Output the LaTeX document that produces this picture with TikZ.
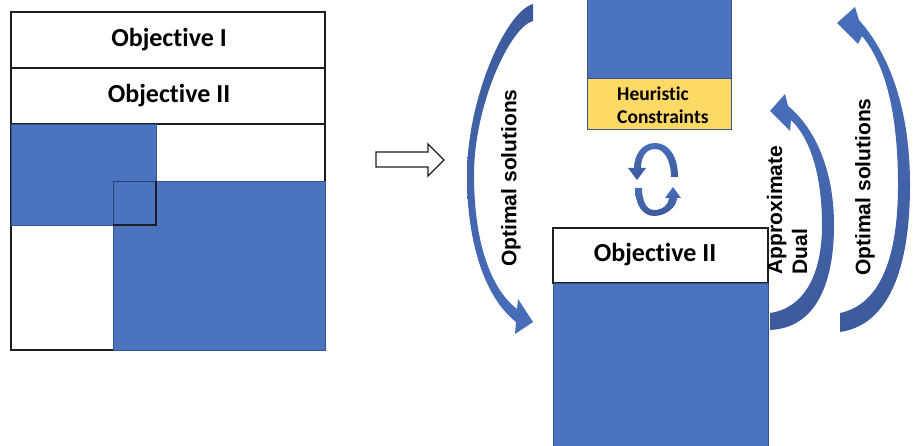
\documentclass[tikz,border=0pt]{standalone}
\usepackage{fontspec}
\newfontfamily\calfont{Carlito}[Ligatures={NoCommon,NoRare,NoContextual}]
\newfontfamily\arialfont{Liberation Sans}
\definecolor{pblue}{RGB}{76,115,190}
\definecolor{pbdark}{RGB}{52,84,145}
\definecolor{parrow}{RGB}{72,110,186}
\definecolor{parrowdark}{RGB}{60,90,155}
\definecolor{pyellow}{RGB}{255,217,102}
\definecolor{frameblack}{RGB}{30,30,30}
\begin{document}
\begin{tikzpicture}[x=1pt,y=-1pt,
  frame/.style={draw=frameblack, line width=1.4pt},
  blk/.style={fill=pblue, draw=pbdark, line width=0.6pt, inner sep=0pt, outer sep=0pt},
  objlbl/.style={font=\calfont\bfseries\fontsize{26}{30}\selectfont, inner sep=0pt},
  heurlbl/.style={font=\calfont\bfseries\fontsize{19.5}{23}\selectfont, inner sep=0pt, align=left},
  arlbl/.style={font=\arialfont\bfseries\fontsize{21}{25}\selectfont, inner sep=0pt, rotate=90},
  curvedup/.style={top color=parrow, bottom color=parrowdark, draw=none},
  curveddown/.style={top color=parrowdark, bottom color=parrow, draw=none},
  hollow/.style={draw=frameblack, line width=1.4pt, fill=white, line join=miter}
]
\useasboundingbox (0,0) rectangle (918,446);

% ---------- left diagram ----------
\node[frame, fill=white, minimum width=314pt, minimum height=338pt, anchor=north west, inner sep=0pt, outer sep=0pt] (outer) at (11,12) {};
\node[frame, minimum width=314pt, minimum height=56pt, anchor=north west, inner sep=0pt, outer sep=0pt] (row1) at (11,12) {};
\node[frame, minimum width=314pt, minimum height=56pt, anchor=north west, inner sep=0pt, outer sep=0pt] (row2) at (11,68) {};
\node[objlbl] (o1) at (169,40) {Objective I};
\node[objlbl] (o2) at (169,96) {Objective II};
\node[blk, minimum width=145pt, minimum height=101pt, anchor=north west] (b1) at (11,124) {};
\node[blk, minimum width=212pt, minimum height=169pt, anchor=north west] (b2) at (113,181) {};
\coordinate (ovtl) at (113,181);
\coordinate (ovtr) at (156,181);
\coordinate (ovbr) at (156,225);
\coordinate (ovbl) at (113,225);
\draw[pbdark!80!black, line width=0.8pt] (ovbl) -- (ovtl) -- (ovtr);
\draw[frameblack, line width=1.2pt] (ovtr) -- (ovbr) -- (ovbl);

% hollow block arrow
\draw[hollow] (376,152) -- (428,152) -- (428,144) -- (444,160) -- (428,176) -- (428,167) -- (376,167) -- cycle;

% ---------- right diagram ----------
\node[blk, minimum width=144pt, minimum height=80pt, anchor=north west] (topblk) at (587,-2) {};
\node[fill=pyellow, draw=pbdark, line width=0.8pt, minimum width=144pt, minimum height=51pt, anchor=north west, inner sep=0pt, outer sep=0pt] (heur) at (587,78) {};
\node[heurlbl, anchor=west] (heurtxt) at (617,105) {Heuristic\\Constraints};

\node[draw=frameblack, line width=1.4pt, fill=white, minimum width=215pt, minimum height=55pt, anchor=north west, inner sep=0pt, outer sep=0pt] (obj2box) at (553,228) {};
\node[objlbl] (obj2txt) at (655,255) {Objective II};
\node[blk, minimum width=215pt, minimum height=166pt, anchor=north west] (botblk) at (553,283) {};

% circular arrows
\shade[curvedup] (678,177) .. controls (678,155) and (668,143) .. (655,143)
  .. controls (642,143) and (634,155) .. (634,168) -- (628,168) -- (637,180) -- (646,168) -- (641,168)
  .. controls (641,157) and (646,149) .. (655,149) .. controls (664,149) and (671,160) .. (671,177) -- cycle;
\shade[curvedup] (635,188) .. controls (635,205) and (643,216) .. (654,216)
  .. controls (666,216) and (677,207) .. (677,198) -- (681,198) -- (673,187) -- (665,198) -- (669,198)
  .. controls (669,205) and (662,210) .. (654,210) .. controls (646,210) and (642,200) .. (642,188) -- cycle;

% left curved arrow
\shade[curveddown] (533,4) .. controls (505,12) and (467,100) .. (467,175)
  .. controls (467,250) and (488,300) .. (516,322) -- (515,334) -- (533,322) -- (518,299) -- (517,309)
  .. controls (492,290) and (474,245) .. (474,175)
  .. controls (474,105) and (510,27) .. (533,21) -- cycle;
\node[arlbl] (optl) at (511,178) {Optimal solutions};

% right inner curved arrow
\shade[curvedup] (770,330) .. controls (815,328) and (834,285) .. (834,225)
  .. controls (834,170) and (815,128) .. (788,106) -- (785,94) -- (770,111) -- (790,131) -- (791,120)
  .. controls (810,138) and (822,175) .. (822,225)
  .. controls (822,275) and (804,308) .. (770,313) -- cycle;
\node[arlbl, align=left] (approx) at (787,210) {Approximate\\Dual};

% right outer curved arrow
\shade[curvedup] (840,332) .. controls (888,325) and (910,270) .. (910,185)
  .. controls (910,110) and (890,55) .. (859,20) -- (855,7) -- (837,23) -- (858,44) -- (862,36)
  .. controls (886,65) and (898,115) .. (898,185)
  .. controls (898,262) and (878,305) .. (840,313) -- cycle;
\node[arlbl] (optr) at (865,187) {Optimal solutions};
\end{tikzpicture}
\end{document}
